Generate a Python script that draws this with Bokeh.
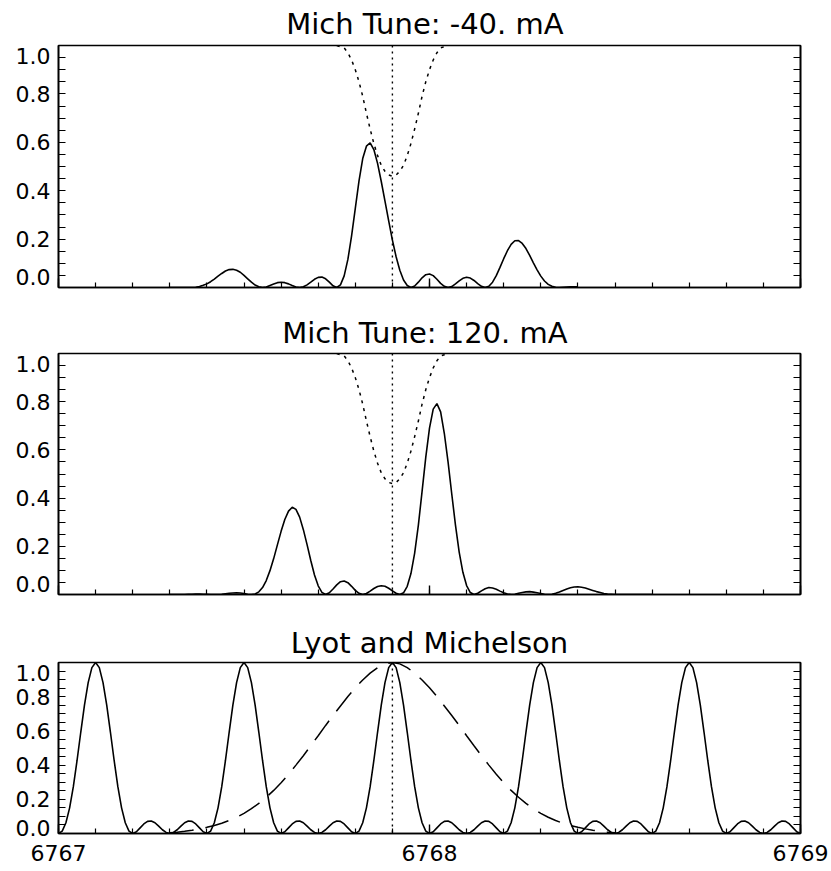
import numpy as np
from bokeh.plotting import figure
from bokeh.layouts import column
from bokeh.models import FixedTicker, LinearAxis, PrintfTickFormatter, Span, Range1d
from bokeh.embed import file_html
from bokeh.resources import INLINE

FONT = "DejaVu Sans"

# ---------------- data ----------------
titles = ["Mich Tune:  -40. mA", "Mich Tune:  120. mA", "Lyot and Michelson"]
line_center = 6767.90

x_major = [6767, 6768, 6769]
x_minor = [round(6767 + 0.1 * i, 1) for i in range(21)]
y_major = [0.0, 0.2, 0.4, 0.6, 0.8, 1.0]
y_minor = [round(0.05 * i, 2) for i in range(21)]
y_labels = ["0.0", "0.2", "0.4", "0.6", "0.8", "1.0"]

# solar line profile (dotted), wavelength 6767.75 .. 6768.05, step 0.01
line_start = 6767.75
line_profile = [1.0, .995, .99, .97, .94, .90, .85, .79, .72, .655, .595, .545, .505, .48, .465,
                .46, .465, .48, .505, .545, .595, .655, .72, .79, .85, .90, .94, .97, .99, .995, 1.0]

# filter transmission at -40 mA (solid), 6767.30 .. 6768.40, step 0.01
m40_start = 6767.30
tune_m40 = [0.000, 0.000, 0.000, 0.000, 0.000, 0.000, 0.000, 0.001, 0.004, 0.009,
            0.015, 0.024, 0.035, 0.047, 0.058, 0.068, 0.074, 0.075, 0.071, 0.063,
            0.050, 0.036, 0.022, 0.010, 0.003, 0.000, 0.002, 0.008, 0.014, 0.020,
            0.022, 0.020, 0.015, 0.008, 0.002, 0.000, 0.003, 0.011, 0.022, 0.034,
            0.042, 0.043, 0.036, 0.022, 0.007, 0.000, 0.011, 0.048, 0.116, 0.213,
            0.327, 0.441, 0.533, 0.584, 0.598, 0.570, 0.513, 0.438, 0.357, 0.275,
            0.196, 0.127, 0.071, 0.031, 0.008, 0.000, 0.006, 0.022, 0.040, 0.053,
            0.056, 0.049, 0.034, 0.017, 0.005, 0.000, 0.004, 0.015, 0.027, 0.038,
            0.042, 0.039, 0.029, 0.016, 0.005, 0.000, 0.005, 0.022, 0.049, 0.083,
            0.119, 0.152, 0.178, 0.193, 0.194, 0.182, 0.161, 0.133, 0.102, 0.073,
            0.047, 0.027, 0.013, 0.005, 0.001, 0.000, 0.001, 0.002, 0.003, 0.003,
            0.003]

# filter transmission at 120 mA (solid), 6767.30 .. 6768.60, step 0.01
p120_start = 6767.30
tune_p120 = [0.000, 0.000, 0.000, 0.000, 0.000, 0.001, 0.001, 0.002, 0.002, 0.001,
             0.001, 0.000, 0.000, 0.000, 0.001, 0.003, 0.005, 0.006, 0.007, 0.006,
             0.004, 0.001, 0.000, 0.002, 0.011, 0.029, 0.058, 0.099, 0.149, 0.206,
             0.262, 0.311, 0.346, 0.362, 0.353, 0.321, 0.269, 0.207, 0.141, 0.081,
             0.036, 0.009, 0.000, 0.007, 0.023, 0.040, 0.053, 0.056, 0.049, 0.034,
             0.017, 0.005, 0.000, 0.004, 0.014, 0.025, 0.033, 0.036, 0.034, 0.026,
             0.015, 0.005, 0.000, 0.007, 0.034, 0.087, 0.172, 0.288, 0.428, 0.570,
             0.690, 0.769, 0.792, 0.758, 0.668, 0.550, 0.417, 0.288, 0.176, 0.092,
             0.037, 0.008, 0.000, 0.005, 0.015, 0.024, 0.029, 0.027, 0.022, 0.014,
             0.007, 0.002, 0.000, 0.001, 0.005, 0.008, 0.011, 0.012, 0.010, 0.007,
             0.004, 0.001, 0.000, 0.001, 0.005, 0.010, 0.017, 0.023, 0.028, 0.031,
             0.032, 0.030, 0.027, 0.022, 0.017, 0.012, 0.008, 0.004, 0.002, 0.001,
             0.000, 0.000, 0.000, 0.000, 0.000, 0.000, 0.000, 0.000, 0.000, 0.000,
             0.000]

# Lyot filter profile (dashed), 6767.30 .. 6768.50, step 0.02
lyot_start = 6767.30
lyot = [.004, .008, .013, .019, .027, .036, .047, .060, .076, .095,
        .118, .145, .176, .212, .252, .297, .346, .400, .455, .513,
        .572, .632, .690, .746, .801, .852, .898, .938, .970, .992,
        1.0,
        .992, .970, .938, .898, .852, .801, .746, .690, .632, .572,
        .513, .455, .400, .346, .297, .252, .212, .176, .145, .118,
        .095, .076, .060, .047, .036, .027, .019, .013, .008, .004]

# Lyot x Michelson (solid), 6767.00 .. 6769.00, step 0.01
combo_start = 6767.00
combo = [
    0, .014, .063, .150, .274, .427, .592, .751, .882, .970, 1.0, .970, .882, .751, .592, .427, .274, .150, .063, .014,
    0, .010, .033, .056, .071, .073, .063, .043, .022, .006, 0, .006, .022, .043, .063, .073, .071, .056, .033, .010,
    0, .014, .063, .150, .274, .427, .592, .751, .882, .970, 1.0, .970, .882, .751, .592, .427, .274, .150, .063, .014,
    0, .010, .033, .056, .071, .073, .063, .043, .022, .006, 0, .006, .022, .043, .063, .073, .071, .056, .033, .010,
    0, .014, .063, .150, .274, .427, .592, .751, .882, .970, 1.0, .970, .882, .751, .592, .427, .274, .150, .063, .014,
    0, .010, .033, .056, .071, .073, .063, .043, .022, .006, 0, .006, .022, .043, .063, .073, .071, .056, .033, .010,
    0, .014, .063, .150, .274, .427, .592, .751, .882, .970, 1.0, .970, .882, .751, .592, .427, .274, .150, .063, .014,
    0, .010, .033, .056, .071, .073, .063, .043, .022, .006, 0, .006, .022, .043, .063, .073, .071, .056, .033, .010,
    0, .014, .063, .150, .274, .427, .592, .751, .882, .970, 1.0, .970, .882, .751, .592, .427, .274, .150, .063, .014,
    0, .010, .033, .056, .071, .073, .063, .043, .022, .006, 0, .006, .022, .043, .063, .073, .071, .056, .033, .010,
    0]


def grid(start, step, n):
    return np.round(start + step * np.arange(n), 3)


def style_axis(ax, show_labels, is_y, end_pos=(0.045, 0.955)):
    ax.axis_line_color = "black"
    ax.axis_line_width = 1.6
    ax.major_tick_out = 0
    ax.minor_tick_out = 0
    ax.major_tick_line_color = "black"
    ax.minor_tick_line_color = "black"
    ax.major_tick_line_width = 1.4
    ax.minor_tick_line_width = 1.2
    ax.major_label_text_font = FONT
    ax.major_label_text_font_size = "22px"
    ax.major_label_text_color = "black"
    if is_y:
        lo, hi = end_pos
        ticks = [lo] + y_major[1:-1] + [hi]
        ax.ticker = FixedTicker(ticks=ticks, minor_ticks=y_minor)
        ax.major_tick_in = 0
        ax.minor_tick_in = 7
        ax.major_label_standoff = 8
        if show_labels:
            ax.formatter = PrintfTickFormatter(format="%.1f")
            ax.major_label_overrides = {lo: y_labels[0], hi: y_labels[-1]}
        else:
            ax.major_label_overrides = {t: "" for t in ticks}
    else:
        ax.ticker = FixedTicker(ticks=x_major, minor_ticks=x_minor)
        ax.major_tick_in = 9
        ax.minor_tick_in = 5
        ax.major_label_standoff = 11
        ax.formatter = PrintfTickFormatter(format="%d")
        if not show_labels:
            ax.major_label_overrides = {t: "" for t in x_major}


def make_panel(title, height, top, bottom, xlabels, end_pos, standoff):
    p = figure(width=831, height=height, x_range=Range1d(6767, 6769), y_range=Range1d(0, 1),
               output_backend="svg", toolbar_location=None,
               x_axis_location=None, y_axis_location=None,
               min_border_left=58, min_border_right=31,
               min_border_top=top, min_border_bottom=bottom)
    p.grid.visible = False
    p.outline_line_color = "black"
    p.outline_line_width = 1.6
    p.background_fill_color = "white"
    p.border_fill_color = "white"
    p.title.text = title
    p.title.align = "center"
    p.title.text_font = FONT
    p.title.text_font_size = "29px"
    p.title.text_font_style = "normal"
    p.title.text_color = "black"
    p.title.standoff = standoff

    bx = LinearAxis()
    style_axis(bx, xlabels, False)
    p.add_layout(bx, "below")
    ly = LinearAxis()
    style_axis(ly, True, True, end_pos)
    p.add_layout(ly, "left")
    ry = LinearAxis()
    style_axis(ry, False, True, end_pos)
    p.add_layout(ry, "right")
    p.add_layout(Span(location=line_center, dimension="height", line_color="black",
                      line_width=1.4, line_dash="2 4"))
    return p


p1 = make_panel(titles[0], 310, 45, 23, False, (0.045, 0.955), 9)
p1.line(grid(line_start, 0.01, len(line_profile)), line_profile, line_color="black",
        line_width=1.5, line_dash="3 5")
p1.line(grid(m40_start, 0.01, len(tune_m40)), tune_m40, line_color="black", line_width=1.6)

p2 = make_panel(titles[1], 310, 43, 26, False, (0.045, 0.955), 7)
p2.line(grid(line_start, 0.01, len(line_profile)), line_profile, line_color="black",
        line_width=1.5, line_dash="3 5")
p2.line(grid(p120_start, 0.01, len(tune_p120)), tune_p120, line_color="black", line_width=1.6)

p3 = make_panel(titles[2], 250, 42, 37, True, (0.035, 0.94), 6)
p3.line(grid(lyot_start, 0.02, len(lyot)), lyot, line_color="black", line_width=1.5,
        line_dash="24 12")
p3.line(grid(combo_start, 0.01, len(combo)), combo, line_color="black", line_width=1.6)

layout = column(p1, p2, p3, spacing=0)
open("out.html", "w").write(file_html(layout, INLINE))
